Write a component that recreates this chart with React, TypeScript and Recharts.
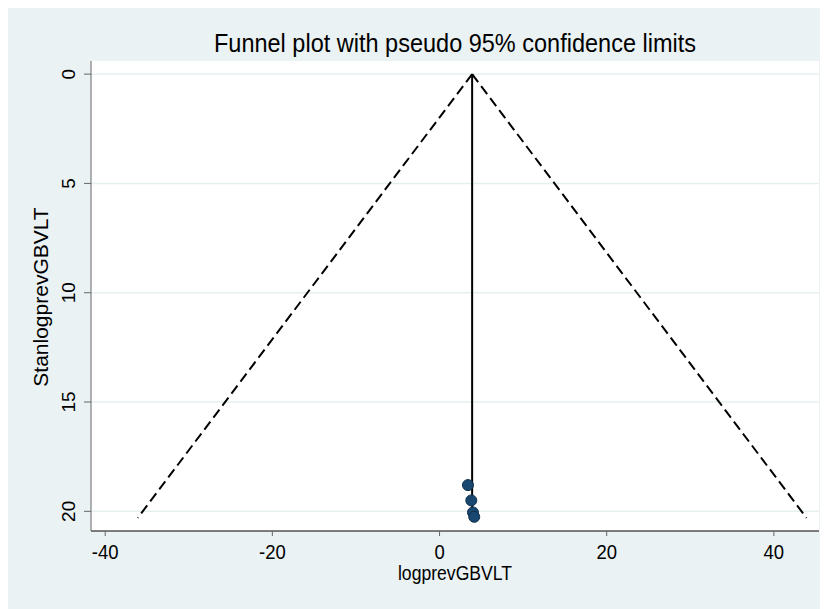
import React from "react";
import { ScatterChart, Scatter, XAxis, YAxis, CartesianGrid } from "recharts";

// funnel: estimate on x, standard error on y (reversed)
const studies = [
  { est: 3.4, se: 18.8 },
  { est: 3.8, se: 19.5 },
  { est: 4.0, se: 20.05 },
  { est: 4.15, se: 20.25 },
];
const pooled = 3.9;
const maxSe = 20.3;
const lowerLimit = [
  { est: pooled, se: 0 },
  { est: -36.1, se: maxSe },
];
const upperLimit = [
  { est: pooled, se: 0 },
  { est: 43.9, se: maxSe },
];
const pooledLine = [
  { est: pooled, se: 0 },
  { est: pooled, se: maxSe },
];
const xTicks = [-40, -20, 0, 20, 40];
const yTicks = [0, 5, 10, 15, 20];

const FONT = "'Liberation Sans', Arial, sans-serif";

const YTick = (props: any) => {
  const { x, y, payload } = props;
  return (
    <text
      x={x - 7}
      y={y}
      transform={`rotate(-90, ${x - 7}, ${y})`}
      textAnchor="middle"
      fontSize={19}
      fill="#000"
      fontFamily={FONT}
    >
      {payload.value}
    </text>
  );
};

const XTick = (props: any) => {
  const { x, y, payload } = props;
  return (
    <text
      transform={`translate(${x}, ${y + 21}) scale(1, 1.1)`}
      textAnchor="middle"
      fontSize={18.5}
      fill="#000"
      fontFamily={FONT}
    >
      {payload.value}
    </text>
  );
};

const noDot = () => null;

export default function App() {
  return (
    <div style={{ position: "relative", width: 820, height: 601, background: "#EAF2F3" }}>
      <div
        style={{
          position: "absolute",
          top: 22,
          left: 83,
          width: 728,
          textAlign: "center",
          fontFamily: FONT,
          fontSize: 23.5,
          lineHeight: "26px",
          color: "#000",
          transform: "scaleY(1.08)",
        }}
      >
        Funnel plot with pseudo 95% confidence limits
      </div>
      <ScatterChart width={820} height={601} margin={{ top: 53, right: 9, bottom: 0, left: 0 }}>
        <CartesianGrid vertical={false} fill="#fff" stroke="#E6EFF0" strokeWidth={1.5} horizontalValues={yTicks} />
        <XAxis
          type="number"
          dataKey="est"
          domain={[-41.7, 45.4]}
          ticks={xTicks}
          allowDataOverflow
          height={78}
          tick={<XTick />}
          tickSize={5}
          stroke="#000"
          tickLine={{ stroke: "#666" }}
          label={{
            content: () => (
              <text
                transform="translate(447, 572) scale(1, 1.1)"
                textAnchor="middle"
                fontSize={17.6}
                fill="#000"
                fontFamily={FONT}
              >
                logprevGBVLT
              </text>
            ),
          }}
        />
        <YAxis
          type="number"
          dataKey="se"
          domain={[-0.6, 20.9]}
          reversed
          ticks={yTicks}
          allowDataOverflow
          width={83}
          tick={<YTick />}
          tickSize={7}
          stroke="#666"
          label={{
            content: () => (
              <text
                x={40}
                y={289}
                transform="rotate(-90, 40, 289)"
                textAnchor="middle"
                fontSize={21}
                fill="#000"
                fontFamily={FONT}
              >
                StanlogprevGBVLT
              </text>
            ),
          }}
        />
        <Scatter
          data={lowerLimit}
          line={{ stroke: "#000", strokeWidth: 2, strokeDasharray: "10 5" }}
          shape={noDot}
          isAnimationActive={false}
        />
        <Scatter
          data={upperLimit}
          line={{ stroke: "#000", strokeWidth: 2, strokeDasharray: "10 5" }}
          shape={noDot}
          isAnimationActive={false}
        />
        <Scatter
          data={pooledLine}
          line={{ stroke: "#000", strokeWidth: 2 }}
          shape={noDot}
          isAnimationActive={false}
        />
        <Scatter
          data={studies}
          shape={(p: any) => (
            <circle cx={p.cx} cy={p.cy} r={5.5} fill="#1A476F" stroke="#0F2F4D" strokeWidth={1} />
          )}
          isAnimationActive={false}
        />
      </ScatterChart>
    </div>
  );
}
